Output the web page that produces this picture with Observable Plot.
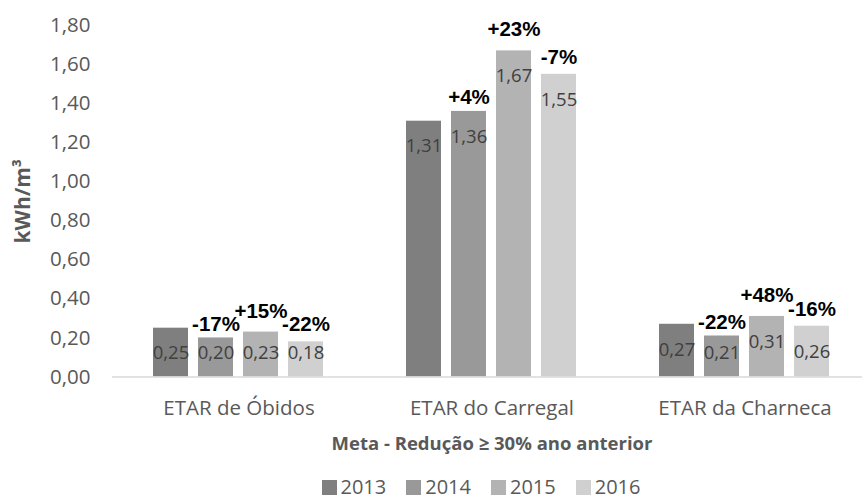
<!DOCTYPE html>
<html>
<head>
<meta charset="utf-8">
<script src="https://cdn.jsdelivr.net/npm/d3@7"></script>
<script src="https://cdn.jsdelivr.net/npm/@observablehq/plot@0.6"></script>
<style>
  html, body { margin: 0; padding: 0; background: #fff; overflow: hidden; }
  #chart svg { display: block; overflow: visible; }
  #legend { height: 50px; display: flex; align-items: center; justify-content: center; padding-left: 100px; box-sizing: border-box; width: 862px;
    font-family: "Open Sans", sans-serif; font-size: 20px; line-height: 1; color: #595959; }
  .item { display: flex; align-items: center; margin: 0 10px; }
  .sw { width: 15px; height: 15px; margin-right: 4px; }
</style>
</head>
<body>
<div id="chart"></div>
<div id="legend"></div>
<script>
const stations = ["ETAR de Óbidos", "ETAR do Carregal", "ETAR da Charneca"];
const years = ["2013", "2014", "2015", "2016"];
const values2013 = [0.25, 1.31, 0.27];
const values2014 = [0.20, 1.36, 0.21];
const values2015 = [0.23, 1.67, 0.31];
const values2016 = [0.18, 1.55, 0.26];
const changes2014 = ["-17%", "+4%", "-22%"];
const changes2015 = ["+15%", "+23%", "+48%"];
const changes2016 = ["-22%", "-7%", "-16%"];
const colors = ["#7f7f7f", "#999999", "#b3b3b3", "#d0d0d0"];
const yTicks = [0, 0.2, 0.4, 0.6, 0.8, 1.0, 1.2, 1.4, 1.6, 1.8];
const yLabel = "kWh/m³";
const xLabel = "Meta - Redução ≥ 30% ano anterior";

const seriesValues = [values2013, values2014, values2015, values2016];
const seriesChanges = [null, changes2014, changes2015, changes2016];

const rows = [];
const changeRows = [];
stations.forEach((s, i) => {
  years.forEach((y, j) => {
    rows.push({station: s, year: y, value: seriesValues[j][i]});
    if (seriesChanges[j]) changeRows.push({station: s, year: y, value: seriesValues[j][i], change: seriesChanges[j][i]});
  });
});

const fmt = v => d3.format(".2f")(v).replace(".", ",");
const changeStyle = {fx: "station", x: "year", y: "value", text: "change", fontFamily: "Liberation Sans", fontWeight: "bold", fontSize: 20.5, fill: "#000"};

const chart = Plot.plot({
  width: 862,
  height: 462,
  marginLeft: 111,
  marginRight: 0,
  marginTop: 25,
  marginBottom: 85.5,
  style: {fontFamily: "Open Sans", background: "#fff", overflow: "visible"},
  fx: {domain: stations, range: [111, 871], padding: 0, label: null},
  x: {domain: years, paddingInner: 0.217, paddingOuter: 0.862, axis: null},
  y: {domain: [0, 1.8], axis: null},
  color: {domain: years, range: colors},
  marks: [
    Plot.axisY({ticks: yTicks, tickFormat: fmt, tickSize: 0, tickPadding: 22, fontSize: 20.5, fill: "#595959", label: null}),
    Plot.axisY({ticks: [], label: yLabel, labelAnchor: "center", labelArrow: "none", labelOffset: 97, fontSize: 21, fontWeight: "bold", fill: "#595959"}),
    Plot.axisFx({anchor: "bottom", tickSize: 0, tickPadding: 23, fontSize: 20.5, fill: "#595959", label: null}),
    Plot.axisFx({anchor: "bottom", ticks: [], label: xLabel, labelAnchor: "center", labelOffset: 73, fontSize: 18.5, fontWeight: "bold", fill: "#595959"}),
    Plot.barY(rows, {fx: "station", x: "year", y: "value", fill: "year"}),
    Plot.ruleY([0], {stroke: "#d9d9d9", strokeWidth: 1.5}),
    Plot.text(rows, {fx: "station", x: "year", y: d => Math.max(d.value - 0.13, 0.12), text: d => fmt(d.value), fill: "#404040", fontSize: 18.5}),
    Plot.text(changeRows.filter(d => d.year === "2014"), {...changeStyle, dy: -14}),
    Plot.text(changeRows.filter(d => d.year === "2015"), {...changeStyle, dy: -21}),
    Plot.text(changeRows.filter(d => d.year === "2016"), {...changeStyle, dy: -17})
  ]
});
document.getElementById("chart").append(chart);

const legend = document.getElementById("legend");
years.forEach((y, j) => {
  const item = document.createElement("div");
  item.className = "item";
  const sw = document.createElement("div");
  sw.className = "sw";
  sw.style.background = colors[j];
  const t = document.createElement("span");
  t.textContent = y;
  item.append(sw, t);
  legend.append(item);
});
</script>
</body>
</html>
